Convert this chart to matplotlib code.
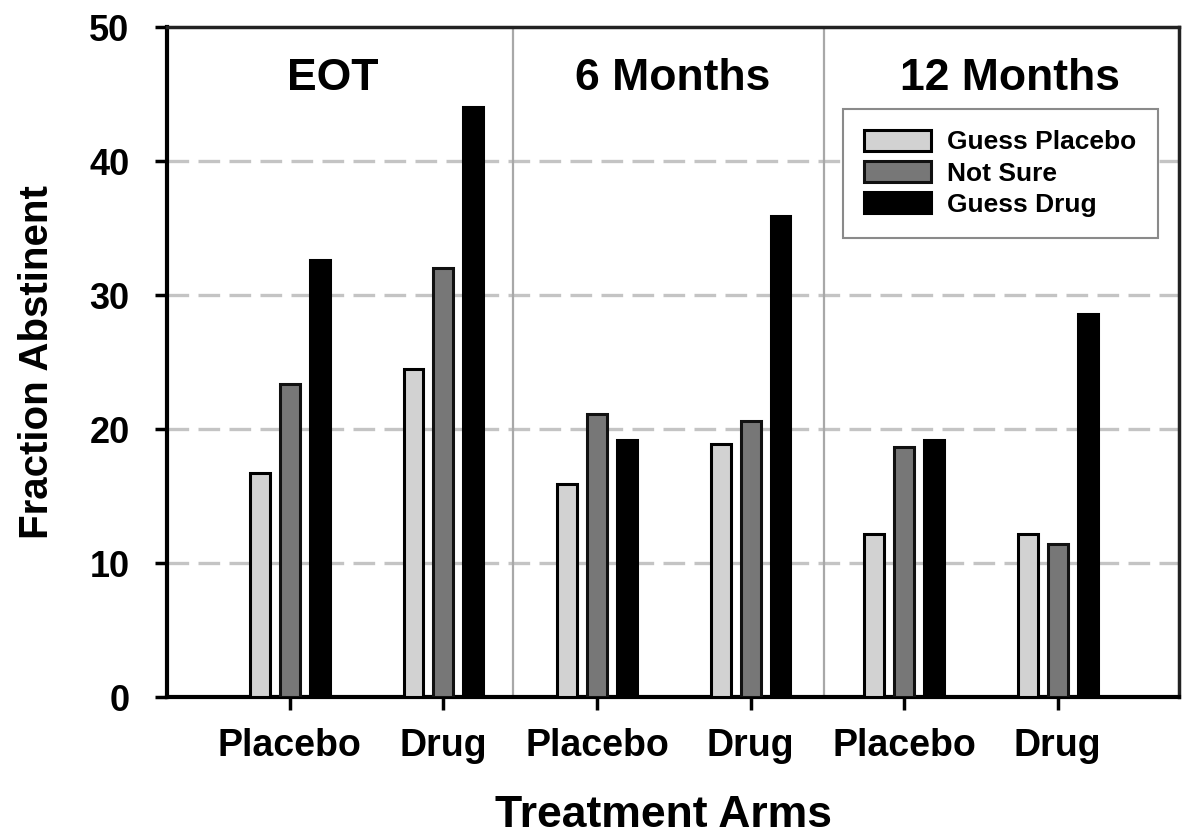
import matplotlib
matplotlib.use("Agg")
import matplotlib.pyplot as plt
import numpy as np

# ---- data ----
arms = ["Placebo", "Drug", "Placebo", "Drug", "Placebo", "Drug"]
periods = ["EOT", "6 Months", "12 Months"]
series_names = ["Guess Placebo", "Not Sure", "Guess Drug"]
guess_placebo = [16.7, 24.5, 15.9, 18.9, 12.2, 12.2]
not_sure = [23.4, 32.0, 21.1, 20.6, 18.7, 11.4]
guess_drug = [32.6, 44.0, 19.2, 35.9, 19.2, 28.6]
y_ticks = [0, 10, 20, 30, 40, 50]

plt.rcParams["font.family"] = ["Liberation Sans", "DejaVu Sans"]
plt.rcParams["font.weight"] = "bold"

fig = plt.figure(figsize=(11.83, 8.39), dpi=100)
ax = fig.add_axes([0.1412, 0.1689, 0.8554, 0.7989])

x = np.arange(len(arms))
offset = 0.195
width = 0.13
colors = ["#d2d2d2", "#777777", "#000000"]
edgec = ["#000000", "#111111", "#000000"]
for i, (vals, c, name) in enumerate(zip([guess_placebo, not_sure, guess_drug], colors, series_names)):
    ax.bar(x + (i - 1) * offset, vals, width, color=c, edgecolor=edgec[i],
           linewidth=2.2, label=name, zorder=3)

ax.set_xlim(-0.80, 5.79)
ax.set_ylim(0, 50)

# grid
for yv in y_ticks[1:-1]:
    ax.axhline(yv, color="#c4c4c4", linewidth=2.4, linestyle=(0, (6.5, 2.8)), zorder=1)

# panel separators
for sx in [1.453, 3.476]:
    ax.axvline(sx, color="#a8a8a8", linewidth=1.6, zorder=2)

# panel titles
title_x = [0.28, 2.49, 4.69]
for tx, t in zip(title_x, periods):
    ax.text(tx, 45.3, t, ha="center", va="baseline", fontsize=32, fontweight="bold")

ax.set_xticks(x)
ax.set_xticklabels(arms, fontsize=27, fontweight="bold")
ax.set_yticks(y_ticks)
ax.set_yticklabels([str(v) for v in y_ticks], fontsize=26, fontweight="bold")
ax.tick_params(axis="x", direction="out", length=9, width=2.5, pad=13)
ax.tick_params(axis="y", direction="out", length=9, width=2.5, pad=18)

for s in ["left", "bottom"]:
    ax.spines[s].set_linewidth(3)
for s in ["top", "right"]:
    ax.spines[s].set_linewidth(2.5)
    ax.spines[s].set_color("#222222")

ax.set_xlabel("Treatment Arms", fontsize=32, fontweight="bold")
ax.xaxis.set_label_coords(0.491, -0.193)
ax.xaxis.label.set_va("baseline")
ax.set_ylabel("Fraction Abstinent", fontsize=29, fontweight="bold", labelpad=24)

leg = ax.legend(loc="upper left", bbox_to_anchor=(0.668, 0.878), fontsize=19,
                handlelength=2.55, handleheight=0.83, handletextpad=0.6,
                labelspacing=0.25, borderpad=0.8, borderaxespad=0.0,
                fancybox=False, framealpha=1, edgecolor="#8a8a8a")
leg.get_frame().set_linewidth(1.5)
for t in leg.get_texts():
    t.set_fontweight("bold")

fig.savefig("out.png", dpi=100)
